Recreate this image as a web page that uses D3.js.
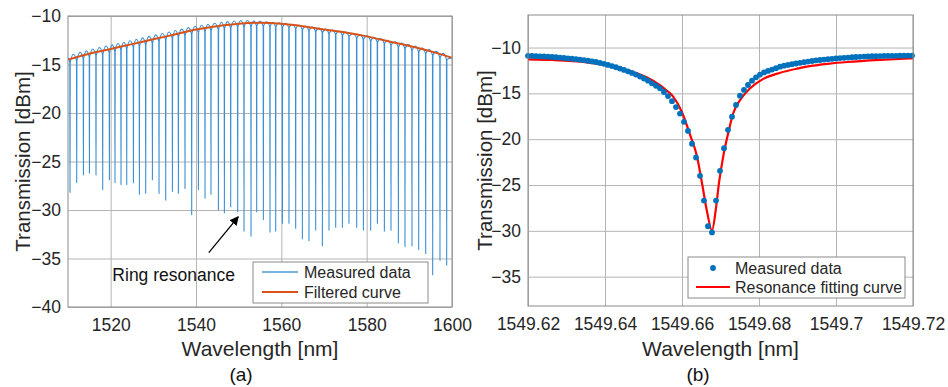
<!DOCTYPE html>
<html><head><meta charset="utf-8">
<script src="https://cdn.jsdelivr.net/npm/d3@7/dist/d3.min.js"></script>
<style>body{margin:0;background:#fff}svg{display:block;font-family:"Liberation Sans",Arial,Helvetica,sans-serif}</style>
</head><body><svg id="c" width="948" height="387"></svg>
<script>
// ---------- Panel (a) data ----------
const aXTicks = [1520, 1540, 1560, 1580, 1600];
const aYTicks = [-40, -35, -30, -25, -20, -15, -10];
const aDipWl = [1510.47,1512.04,1513.61,1515.02,1516.56,1518.13,1519.70,1521.01,1522.42,1523.76,1525.33,1526.73,1528.21,1529.78,1531.33,1532.90,1534.47,1535.87,1537.42,1538.99,1540.56,1542.11,1543.51,1545.25,1546.65,1548.13,1549.77,1551.25,1552.89,1554.22,1555.79,1557.34,1558.68,1560.25,1561.79,1563.36,1564.93,1566.48,1568.05,1569.62,1571.17,1572.74,1574.31,1575.85,1577.66,1579.23,1580.94,1582.51,1584.15,1585.70,1587.43,1588.98,1590.62,1592.19,1593.83,1595.47,1597.18,1598.75];
const aDipMin = [-28.2,-27.2,-26.4,-26.2,-26.4,-27.9,-26.9,-27.2,-27.4,-27.4,-27.2,-28.4,-28.3,-26.9,-28.3,-29.0,-28.1,-28.3,-27.8,-30.5,-27.9,-28.8,-28.4,-30.0,-30.3,-29.7,-30.2,-32.2,-32.7,-30.2,-31.0,-32.3,-32.2,-31.4,-31.4,-31.9,-33.0,-33.2,-32.1,-33.7,-32.1,-31.8,-31.8,-31.4,-31.8,-32.1,-32.1,-31.4,-32.2,-32.1,-33.4,-33.8,-33.7,-34.1,-34.5,-36.7,-35.2,-35.7];
const aDipEdge = [-14.8,-14.6,-14.4,-14.25,-14.1,-13.95,-13.8,-13.65,-13.5,-13.4,-13.2,-13.1,-12.95,-12.8,-12.6,-12.45,-12.3,-12.15,-12.0,-11.85,-11.7,-11.6,-11.5,-11.4,-11.3,-11.25,-11.15,-11.1,-11.1,-11.05,-11.05,-11.1,-11.1,-11.15,-11.2,-11.3,-11.4,-11.5,-11.6,-11.7,-11.8,-11.9,-12.0,-12.1,-12.25,-12.4,-12.55,-12.7,-12.85,-13.0,-13.2,-13.35,-13.5,-13.7,-13.85,-14.05,-14.3,-14.5];
const aPeak = [-14.3,-13.95,-13.75,-13.6,-13.4,-13.25,-13.1,-12.98,-12.84,-12.7,-12.55,-12.4,-12.25,-12.1,-11.95,-11.8,-11.65,-11.5,-11.35,-11.2,-11.05,-10.95,-10.85,-10.75,-10.65,-10.58,-10.52,-10.47,-10.47,-10.5,-10.55,-10.6,-10.65,-10.7,-10.75,-10.85,-10.95,-11.05,-11.15,-11.25,-11.35,-11.45,-11.55,-11.65,-11.8,-11.95,-12.05,-12.2,-12.35,-12.5,-12.65,-12.8,-12.95,-13.1,-13.3,-13.45,-13.65,-13.85,-14.3];
const aFiltWl = [1510,1515,1520,1525,1530,1535,1540,1545,1550,1555,1560,1565,1570,1575,1580,1585,1590,1595,1600];
const aFiltVal = [-14.5,-13.9,-13.4,-12.9,-12.4,-11.9,-11.4,-11.05,-10.8,-10.7,-10.8,-11.05,-11.4,-11.7,-12.1,-12.6,-13.1,-13.65,-14.3];

// ---------- Panel (b) data ----------
const bXTicks = [1549.62, 1549.64, 1549.66, 1549.68, 1549.70, 1549.72];
const bXLabels = ["1549.62", "1549.64", "1549.66", "1549.68", "1549.7", "1549.72"];
const bYTicks = [-35, -30, -25, -20, -15, -10];
const bDotWl = [1549.62000,1549.62104,1549.62208,1549.62312,1549.62416,1549.62519,1549.62623,1549.62727,1549.62831,1549.62935,1549.63039,1549.63143,1549.63247,1549.63351,1549.63455,1549.63558,1549.63662,1549.63766,1549.63870,1549.63974,1549.64078,1549.64182,1549.64286,1549.64390,1549.64494,1549.64597,1549.64701,1549.64805,1549.64909,1549.65013,1549.65117,1549.65221,1549.65325,1549.65429,1549.65532,1549.65636,1549.65740,1549.65844,1549.65948,1549.66052,1549.66156,1549.66260,1549.66364,1549.66468,1549.66571,1549.66675,1549.66779,1549.66883,1549.66987,1549.67091,1549.67195,1549.67299,1549.67403,1549.67506,1549.67610,1549.67714,1549.67818,1549.67922,1549.68026,1549.68130,1549.68234,1549.68338,1549.68442,1549.68545,1549.68649,1549.68753,1549.68857,1549.68961,1549.69065,1549.69169,1549.69273,1549.69377,1549.69481,1549.69584,1549.69688,1549.69792,1549.69896,1549.70000,1549.70104,1549.70208,1549.70312,1549.70416,1549.70519,1549.70623,1549.70727,1549.70831,1549.70935,1549.71039,1549.71143,1549.71247,1549.71351,1549.71455,1549.71558,1549.71662,1549.71766,1549.71870,1549.71974];
const bDotVal = [-10.9,-10.92,-10.94,-10.96,-10.98,-11.0,-11.03,-11.06,-11.1,-11.14,-11.18,-11.22,-11.27,-11.32,-11.38,-11.44,-11.51,-11.58,-11.68,-11.78,-11.9,-12.02,-12.15,-12.29,-12.44,-12.6,-12.77,-12.95,-13.17,-13.38,-13.62,-13.9,-14.17,-14.45,-14.85,-15.3,-15.85,-16.5,-17.2,-18.1,-19.1,-20.5,-22.0,-24.0,-26.7,-29.5,-30.17,-26.7,-23.45,-20.98,-18.98,-17.54,-16.26,-15.25,-14.63,-14.09,-13.62,-13.25,-12.95,-12.72,-12.55,-12.4,-12.25,-12.09,-11.98,-11.9,-11.82,-11.74,-11.67,-11.6,-11.53,-11.47,-11.41,-11.36,-11.31,-11.27,-11.23,-11.19,-11.15,-11.12,-11.09,-11.06,-11.03,-11.01,-10.99,-10.97,-10.95,-10.94,-10.93,-10.92,-10.91,-10.9,-10.9,-10.89,-10.89,-10.88,-10.88];
const bFitWl = [1549.6200,1549.6265,1549.6353,1549.6400,1549.6439,1549.6483,1549.6525,1549.6561,1549.6577,1549.6600,1549.6621,1549.6639,1549.6652,1549.6665,1549.6678,1549.6688,1549.6696,1549.6707,1549.6720,1549.6733,1549.6751,1549.6777,1549.6810,1549.6855,1549.6899,1549.6940,1549.6984,1549.7029,1549.7114,1549.7200];
const bFitVal = [-11.29,-11.36,-11.61,-11.9,-12.27,-12.81,-13.62,-14.71,-15.36,-17.06,-19.53,-21.9,-24.8,-27.9,-29.96,-27.6,-24.8,-21.9,-19.35,-17.17,-15.72,-14.44,-13.45,-12.75,-12.3,-11.98,-11.75,-11.58,-11.35,-11.18];

// ---------- drawing ----------
const TXT = "#262626", GRID = "#b5b5b5", FRAME = "#8a8a8a";
const svg = d3.select("#c");
svg.append("rect").attr("width", 948).attr("height", 387).attr("fill", "#fff");

function panel(P, x, y, xTicks, xFmt, yTicks, clipId) {
  const g = svg.append("g");
  g.append("g").attr("transform", `translate(0,${P.b})`)
    .call(d3.axisBottom(x).tickValues(xTicks).tickSize(-(P.b - P.t)).tickFormat(""))
    .call(s => { s.select(".domain").remove(); s.selectAll("line").attr("stroke", GRID).attr("stroke-width", 1); });
  g.append("g").attr("transform", `translate(${P.l},0)`)
    .call(d3.axisLeft(y).tickValues(yTicks).tickSize(-(P.r - P.l)).tickFormat(""))
    .call(s => { s.select(".domain").remove(); s.selectAll("line").attr("stroke", GRID).attr("stroke-width", 1); });
  g.append("g").attr("transform", `translate(0,${P.b})`)
    .call(d3.axisBottom(x).tickValues(xTicks).tickSize(0).tickPadding(12).tickFormat(xFmt))
    .call(s => { s.select(".domain").remove(); s.selectAll("text").attr("fill", TXT).style("font-size", "17.5px").style("font-family", "Liberation Sans, Arial, sans-serif"); });
  g.append("g").attr("transform", `translate(${P.l},0)`)
    .call(d3.axisLeft(y).tickValues(yTicks).tickSize(0).tickPadding(7).tickFormat(d3.format("d")))
    .call(s => { s.select(".domain").remove(); s.selectAll("text").attr("fill", TXT).style("font-size", "17.5px").style("font-family", "Liberation Sans, Arial, sans-serif"); });
  svg.append("clipPath").attr("id", clipId).append("rect")
    .attr("x", P.l).attr("y", P.t).attr("width", P.r - P.l).attr("height", P.b - P.t);
  return g;
}

// ----- Panel (a)
const A = { l: 68, r: 452, t: 16, b: 307 };
const xA = d3.scaleLinear().domain([1510, 1600]).range([A.l, A.r]);
const yA = d3.scaleLinear().domain([-40, -10]).range([A.b, A.t]);
panel(A, xA, yA, aXTicks, d3.format("d"), aYTicks, "clipA");

const meas = [[1510, aPeak[0]]];
aDipWl.forEach((w, i) => {
  meas.push([w - 0.05, aDipEdge[i]]);
  meas.push([w, aDipMin[i]]);
  meas.push([w + 0.05, aDipEdge[i]]);
  const nxt = i + 1 < aDipWl.length ? (w + aDipWl[i + 1]) / 2 : 1600;
  meas.push([nxt, aPeak[i + 1]]);
});
const lineA = d3.line().x(d => xA(d[0])).y(d => yA(d[1])).curve(d3.curveMonotoneX);
const dA = svg.append("g").attr("clip-path", "url(#clipA)");
dA.append("path").attr("d", lineA(meas)).attr("fill", "none")
  .attr("stroke", "#3a8fd4").attr("stroke-width", 1.1).attr("stroke-linejoin", "round");
dA.append("path").attr("d", lineA(aFiltWl.map((w, i) => [w, aFiltVal[i]]))).attr("fill", "none")
  .attr("stroke", "#D95319").attr("stroke-width", 2);
svg.append("rect").attr("x", A.l).attr("y", A.t).attr("width", A.r - A.l).attr("height", A.b - A.t)
  .attr("fill", "none").attr("stroke", FRAME).attr("stroke-width", 1);

// annotation
svg.append("defs").append("marker").attr("id", "arr").attr("viewBox", "0 0 10 10")
  .attr("refX", 9).attr("refY", 5).attr("markerWidth", 9).attr("markerHeight", 9)
  .attr("markerUnits", "userSpaceOnUse").attr("orient", "auto")
  .append("path").attr("d", "M0,0 L10,5 L0,10 z").attr("fill", "#000");
svg.append("line").attr("x1", xA(1543.0)).attr("y1", yA(-34.4)).attr("x2", xA(1549.9)).attr("y2", yA(-30.7))
  .attr("stroke", "#000").attr("stroke-width", 1.3).attr("marker-end", "url(#arr)");
svg.append("text").attr("x", xA(1520.4)).attr("y", yA(-37.35)).attr("fill", "#111")
  .style("font-size", "17.5px").text("Ring resonance");

// legend (a)
const LA = svg.append("g");
LA.append("rect").attr("x", 253).attr("y", 262).attr("width", 175).attr("height", 41)
  .attr("fill", "#fff").attr("stroke", FRAME);
LA.append("line").attr("x1", 262).attr("x2", 298).attr("y1", 272).attr("y2", 272).attr("stroke", "#4a9bd8").attr("stroke-width", 1.5);
LA.append("line").attr("x1", 262).attr("x2", 298).attr("y1", 292).attr("y2", 292).attr("stroke", "#D95319").attr("stroke-width", 2);
LA.append("text").attr("x", 304).attr("y", 277.5).attr("fill", TXT).style("font-size", "16px").text("Measured data");
LA.append("text").attr("x", 304).attr("y", 297.5).attr("fill", TXT).style("font-size", "16px").text("Filtered curve");

svg.append("text").attr("x", (A.l + A.r) / 2).attr("y", 356).attr("text-anchor", "middle").attr("fill", TXT)
  .style("font-size", "21px").text("Wavelength [nm]");
svg.append("text").attr("transform", `translate(30,${(A.t + A.b) / 2}) rotate(-90)`).attr("text-anchor", "middle").attr("fill", TXT)
  .style("font-size", "20.5px").text("Transmission [dBm]");
svg.append("text").attr("x", 241).attr("y", 381).attr("text-anchor", "middle").attr("fill", "#111")
  .style("font-size", "19px").text("(a)");

// ----- Panel (b)
const B = { l: 528, r: 913, t: 15, b: 306 };
const xB = d3.scaleLinear().domain([1549.62, 1549.72]).range([B.l, B.r]);
const yB = d3.scaleLinear().domain([-38.2, -6.45]).range([B.b, B.t]);
panel(B, xB, yB, bXTicks, (d, i) => bXLabels[i], bYTicks, "clipB");

const dB = svg.append("g");
const lineB = d3.line().x(d => xB(d[0])).y(d => yB(d[1])).curve(d3.curveMonotoneX);
dB.append("path").attr("d", lineB(bFitWl.map((w, i) => [w, bFitVal[i]]))).attr("fill", "none")
  .attr("stroke", "#ff0000").attr("stroke-width", 2.2).attr("stroke-linejoin", "round");
dB.selectAll("circle").data(bDotWl.map((w, i) => [w, bDotVal[i]])).join("circle")
  .attr("cx", d => xB(d[0])).attr("cy", d => yB(d[1])).attr("r", 2.9).attr("fill", "#0072BD");
svg.append("rect").attr("x", B.l).attr("y", B.t).attr("width", B.r - B.l).attr("height", B.b - B.t)
  .attr("fill", "none").attr("stroke", FRAME).attr("stroke-width", 1);

const LB = svg.append("g");
LB.append("rect").attr("x", 688).attr("y", 257).attr("width", 217).attr("height", 41)
  .attr("fill", "#fff").attr("stroke", FRAME);
LB.append("circle").attr("cx", 713).attr("cy", 268).attr("r", 2.9).attr("fill", "#0072BD");
LB.append("line").attr("x1", 696).attr("x2", 730).attr("y1", 287).attr("y2", 287).attr("stroke", "#ff0000").attr("stroke-width", 2.2);
LB.append("text").attr("x", 735).attr("y", 273.5).attr("fill", TXT).style("font-size", "16px").text("Measured data");
LB.append("text").attr("x", 735).attr("y", 292.5).attr("fill", TXT).style("font-size", "16px").text("Resonance fitting curve");

svg.append("text").attr("x", (B.l + B.r) / 2).attr("y", 356).attr("text-anchor", "middle").attr("fill", TXT)
  .style("font-size", "21px").text("Wavelength [nm]");
svg.append("text").attr("transform", `translate(492,${(B.t + B.b) / 2}) rotate(-90)`).attr("text-anchor", "middle").attr("fill", TXT)
  .style("font-size", "20.5px").text("Transmission [dBm]");
svg.append("text").attr("x", 698).attr("y", 381).attr("text-anchor", "middle").attr("fill", "#111")
  .style("font-size", "19px").text("(b)");
</script></body></html>
